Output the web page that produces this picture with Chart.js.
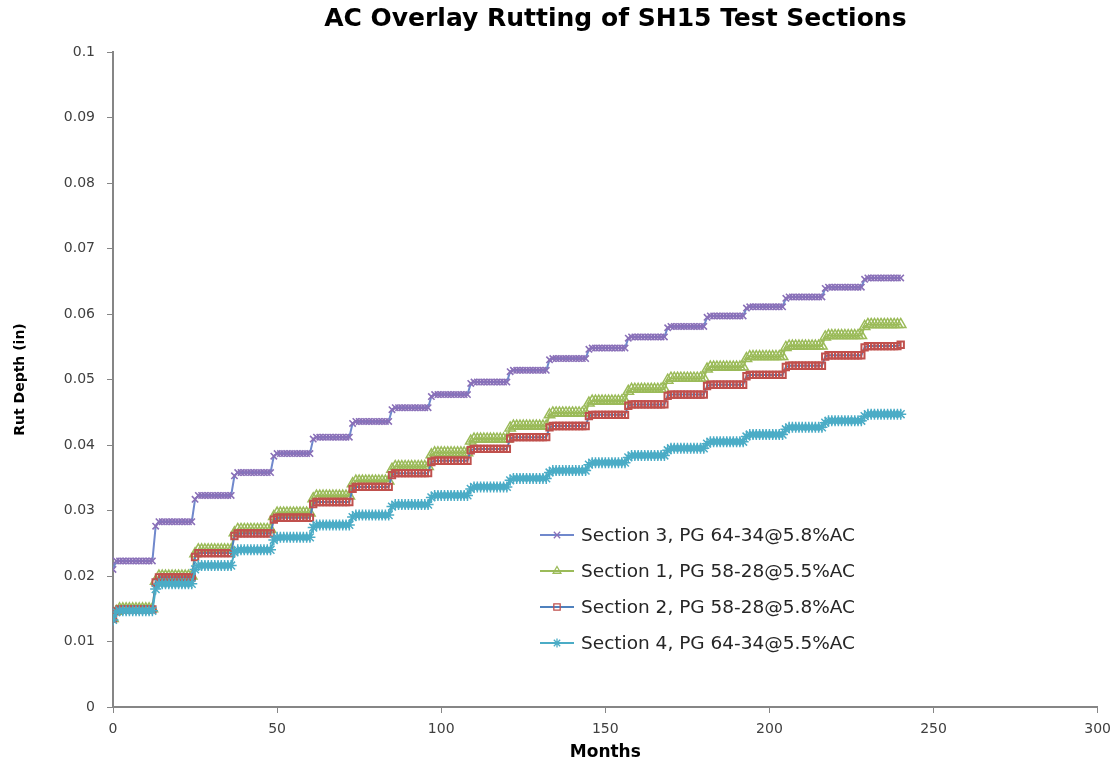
<!DOCTYPE html>
<html>
<head>
<meta charset="utf-8">
<script src="https://cdn.jsdelivr.net/npm/chart.js@4/dist/chart.umd.min.js"></script>
<style>
    body { margin: 0; background: #fff; }
    canvas { display: block; }
</style>
</head>
<body>
<canvas id="rutChart" width="1119" height="765"></canvas>
<script>
// months 0..240 (one reading per month)
const months = Array.from({length: 241}, (_, i) => i)

const xTicks = [0, 50, 100, 150, 200, 250, 300]
const yTicks = [0, 0.01, 0.02, 0.03, 0.04, 0.05, 0.06, 0.07, 0.08, 0.09, 0.1]

const seriesNames = [
    'Section 3, PG 64-34@5.8%AC',
    'Section 1, PG 58-28@5.5%AC',
    'Section 2, PG 58-28@5.8%AC',
    'Section 4, PG 64-34@5.5%AC'
]

const section3 = [
    0.0210,
    0.0223, 0.0223, 0.0223, 0.0223, 0.0223, 0.0223, 0.0223, 0.0223, 0.0223, 0.0223, 0.0223, 0.0223,
    0.0276, 0.0283, 0.0283, 0.0283, 0.0283, 0.0283, 0.0283, 0.0283, 0.0283, 0.0283, 0.0283, 0.0283,
    0.0317, 0.0323, 0.0323, 0.0323, 0.0323, 0.0323, 0.0323, 0.0323, 0.0323, 0.0323, 0.0323, 0.0323,
    0.0353, 0.0358, 0.0358, 0.0358, 0.0358, 0.0358, 0.0358, 0.0358, 0.0358, 0.0358, 0.0358, 0.0358,
    0.0383, 0.0387, 0.0387, 0.0387, 0.0387, 0.0387, 0.0387, 0.0387, 0.0387, 0.0387, 0.0387, 0.0387,
    0.0409, 0.0412, 0.0412, 0.0412, 0.0412, 0.0412, 0.0412, 0.0412, 0.0412, 0.0412, 0.0412, 0.0412,
    0.0433, 0.0436, 0.0436, 0.0436, 0.0436, 0.0436, 0.0436, 0.0436, 0.0436, 0.0436, 0.0436, 0.0436,
    0.0454, 0.0457, 0.0457, 0.0457, 0.0457, 0.0457, 0.0457, 0.0457, 0.0457, 0.0457, 0.0457, 0.0457,
    0.0474, 0.0477, 0.0477, 0.0477, 0.0477, 0.0477, 0.0477, 0.0477, 0.0477, 0.0477, 0.0477, 0.0477,
    0.0494, 0.0496, 0.0496, 0.0496, 0.0496, 0.0496, 0.0496, 0.0496, 0.0496, 0.0496, 0.0496, 0.0496,
    0.0512, 0.0514, 0.0514, 0.0514, 0.0514, 0.0514, 0.0514, 0.0514, 0.0514, 0.0514, 0.0514, 0.0514,
    0.0530, 0.0532, 0.0532, 0.0532, 0.0532, 0.0532, 0.0532, 0.0532, 0.0532, 0.0532, 0.0532, 0.0532,
    0.0546, 0.0548, 0.0548, 0.0548, 0.0548, 0.0548, 0.0548, 0.0548, 0.0548, 0.0548, 0.0548, 0.0548,
    0.0563, 0.0565, 0.0565, 0.0565, 0.0565, 0.0565, 0.0565, 0.0565, 0.0565, 0.0565, 0.0565, 0.0565,
    0.0579, 0.0581, 0.0581, 0.0581, 0.0581, 0.0581, 0.0581, 0.0581, 0.0581, 0.0581, 0.0581, 0.0581,
    0.0595, 0.0597, 0.0597, 0.0597, 0.0597, 0.0597, 0.0597, 0.0597, 0.0597, 0.0597, 0.0597, 0.0597,
    0.0609, 0.0611, 0.0611, 0.0611, 0.0611, 0.0611, 0.0611, 0.0611, 0.0611, 0.0611, 0.0611, 0.0611,
    0.0624, 0.0626, 0.0626, 0.0626, 0.0626, 0.0626, 0.0626, 0.0626, 0.0626, 0.0626, 0.0626, 0.0626,
    0.0639, 0.0641, 0.0641, 0.0641, 0.0641, 0.0641, 0.0641, 0.0641, 0.0641, 0.0641, 0.0641, 0.0641,
    0.0653, 0.0655, 0.0655, 0.0655, 0.0655, 0.0655, 0.0655, 0.0655, 0.0655, 0.0655, 0.0655, 0.0655
]

const section1 = [
    0.0135,
    0.0146, 0.0150, 0.0150, 0.0150, 0.0150, 0.0150, 0.0150, 0.0150, 0.0150, 0.0150, 0.0150, 0.0150,
    0.0192, 0.0200, 0.0200, 0.0200, 0.0200, 0.0200, 0.0200, 0.0200, 0.0200, 0.0200, 0.0200, 0.0200,
    0.0234, 0.0240, 0.0240, 0.0240, 0.0240, 0.0240, 0.0240, 0.0240, 0.0240, 0.0240, 0.0240, 0.0240,
    0.0266, 0.0271, 0.0271, 0.0271, 0.0271, 0.0271, 0.0271, 0.0271, 0.0271, 0.0271, 0.0271, 0.0271,
    0.0291, 0.0296, 0.0296, 0.0296, 0.0296, 0.0296, 0.0296, 0.0296, 0.0296, 0.0296, 0.0296, 0.0296,
    0.0318, 0.0322, 0.0322, 0.0322, 0.0322, 0.0322, 0.0322, 0.0322, 0.0322, 0.0322, 0.0322, 0.0322,
    0.0341, 0.0345, 0.0345, 0.0345, 0.0345, 0.0345, 0.0345, 0.0345, 0.0345, 0.0345, 0.0345, 0.0345,
    0.0363, 0.0367, 0.0367, 0.0367, 0.0367, 0.0367, 0.0367, 0.0367, 0.0367, 0.0367, 0.0367, 0.0367,
    0.0385, 0.0388, 0.0388, 0.0388, 0.0388, 0.0388, 0.0388, 0.0388, 0.0388, 0.0388, 0.0388, 0.0388,
    0.0406, 0.0409, 0.0409, 0.0409, 0.0409, 0.0409, 0.0409, 0.0409, 0.0409, 0.0409, 0.0409, 0.0409,
    0.0426, 0.0429, 0.0429, 0.0429, 0.0429, 0.0429, 0.0429, 0.0429, 0.0429, 0.0429, 0.0429, 0.0429,
    0.0446, 0.0449, 0.0449, 0.0449, 0.0449, 0.0449, 0.0449, 0.0449, 0.0449, 0.0449, 0.0449, 0.0449,
    0.0464, 0.0467, 0.0467, 0.0467, 0.0467, 0.0467, 0.0467, 0.0467, 0.0467, 0.0467, 0.0467, 0.0467,
    0.0482, 0.0485, 0.0485, 0.0485, 0.0485, 0.0485, 0.0485, 0.0485, 0.0485, 0.0485, 0.0485, 0.0485,
    0.0499, 0.0502, 0.0502, 0.0502, 0.0502, 0.0502, 0.0502, 0.0502, 0.0502, 0.0502, 0.0502, 0.0502,
    0.0516, 0.0519, 0.0519, 0.0519, 0.0519, 0.0519, 0.0519, 0.0519, 0.0519, 0.0519, 0.0519, 0.0519,
    0.0532, 0.0535, 0.0535, 0.0535, 0.0535, 0.0535, 0.0535, 0.0535, 0.0535, 0.0535, 0.0535, 0.0535,
    0.0549, 0.0551, 0.0551, 0.0551, 0.0551, 0.0551, 0.0551, 0.0551, 0.0551, 0.0551, 0.0551, 0.0551,
    0.0565, 0.0567, 0.0567, 0.0567, 0.0567, 0.0567, 0.0567, 0.0567, 0.0567, 0.0567, 0.0567, 0.0567,
    0.0581, 0.0584, 0.0584, 0.0584, 0.0584, 0.0584, 0.0584, 0.0584, 0.0584, 0.0584, 0.0584, 0.0584
]

const section2 = [
    0.0135,
    0.0146, 0.0149, 0.0149, 0.0149, 0.0149, 0.0149, 0.0149, 0.0149, 0.0149, 0.0149, 0.0149, 0.0149,
    0.0190, 0.0198, 0.0198, 0.0198, 0.0198, 0.0198, 0.0198, 0.0198, 0.0198, 0.0198, 0.0198, 0.0198,
    0.0229, 0.0235, 0.0235, 0.0235, 0.0235, 0.0235, 0.0235, 0.0235, 0.0235, 0.0235, 0.0235, 0.0235,
    0.0261, 0.0265, 0.0265, 0.0265, 0.0265, 0.0265, 0.0265, 0.0265, 0.0265, 0.0265, 0.0265, 0.0265,
    0.0286, 0.0289, 0.0289, 0.0289, 0.0289, 0.0289, 0.0289, 0.0289, 0.0289, 0.0289, 0.0289, 0.0289,
    0.0310, 0.0313, 0.0313, 0.0313, 0.0313, 0.0313, 0.0313, 0.0313, 0.0313, 0.0313, 0.0313, 0.0313,
    0.0333, 0.0336, 0.0336, 0.0336, 0.0336, 0.0336, 0.0336, 0.0336, 0.0336, 0.0336, 0.0336, 0.0336,
    0.0354, 0.0357, 0.0357, 0.0357, 0.0357, 0.0357, 0.0357, 0.0357, 0.0357, 0.0357, 0.0357, 0.0357,
    0.0374, 0.0376, 0.0376, 0.0376, 0.0376, 0.0376, 0.0376, 0.0376, 0.0376, 0.0376, 0.0376, 0.0376,
    0.0392, 0.0394, 0.0394, 0.0394, 0.0394, 0.0394, 0.0394, 0.0394, 0.0394, 0.0394, 0.0394, 0.0394,
    0.0410, 0.0412, 0.0412, 0.0412, 0.0412, 0.0412, 0.0412, 0.0412, 0.0412, 0.0412, 0.0412, 0.0412,
    0.0427, 0.0429, 0.0429, 0.0429, 0.0429, 0.0429, 0.0429, 0.0429, 0.0429, 0.0429, 0.0429, 0.0429,
    0.0444, 0.0446, 0.0446, 0.0446, 0.0446, 0.0446, 0.0446, 0.0446, 0.0446, 0.0446, 0.0446, 0.0446,
    0.0460, 0.0462, 0.0462, 0.0462, 0.0462, 0.0462, 0.0462, 0.0462, 0.0462, 0.0462, 0.0462, 0.0462,
    0.0475, 0.0477, 0.0477, 0.0477, 0.0477, 0.0477, 0.0477, 0.0477, 0.0477, 0.0477, 0.0477, 0.0477,
    0.0490, 0.0492, 0.0492, 0.0492, 0.0492, 0.0492, 0.0492, 0.0492, 0.0492, 0.0492, 0.0492, 0.0492,
    0.0505, 0.0507, 0.0507, 0.0507, 0.0507, 0.0507, 0.0507, 0.0507, 0.0507, 0.0507, 0.0507, 0.0507,
    0.0519, 0.0521, 0.0521, 0.0521, 0.0521, 0.0521, 0.0521, 0.0521, 0.0521, 0.0521, 0.0521, 0.0521,
    0.0535, 0.0537, 0.0537, 0.0537, 0.0537, 0.0537, 0.0537, 0.0537, 0.0537, 0.0537, 0.0537, 0.0537,
    0.0549, 0.0551, 0.0551, 0.0551, 0.0551, 0.0551, 0.0551, 0.0551, 0.0551, 0.0551, 0.0551, 0.0553
]

const section4 = [
    0.0133,
    0.0145, 0.0147, 0.0147, 0.0147, 0.0147, 0.0147, 0.0147, 0.0147, 0.0147, 0.0147, 0.0147, 0.0147,
    0.0180, 0.0188, 0.0188, 0.0188, 0.0188, 0.0188, 0.0188, 0.0188, 0.0188, 0.0188, 0.0188, 0.0188,
    0.0210, 0.0216, 0.0216, 0.0216, 0.0216, 0.0216, 0.0216, 0.0216, 0.0216, 0.0216, 0.0216, 0.0216,
    0.0236, 0.0240, 0.0240, 0.0240, 0.0240, 0.0240, 0.0240, 0.0240, 0.0240, 0.0240, 0.0240, 0.0240,
    0.0255, 0.0259, 0.0259, 0.0259, 0.0259, 0.0259, 0.0259, 0.0259, 0.0259, 0.0259, 0.0259, 0.0259,
    0.0274, 0.0278, 0.0278, 0.0278, 0.0278, 0.0278, 0.0278, 0.0278, 0.0278, 0.0278, 0.0278, 0.0278,
    0.0290, 0.0293, 0.0293, 0.0293, 0.0293, 0.0293, 0.0293, 0.0293, 0.0293, 0.0293, 0.0293, 0.0293,
    0.0306, 0.0309, 0.0309, 0.0309, 0.0309, 0.0309, 0.0309, 0.0309, 0.0309, 0.0309, 0.0309, 0.0309,
    0.0320, 0.0323, 0.0323, 0.0323, 0.0323, 0.0323, 0.0323, 0.0323, 0.0323, 0.0323, 0.0323, 0.0323,
    0.0333, 0.0336, 0.0336, 0.0336, 0.0336, 0.0336, 0.0336, 0.0336, 0.0336, 0.0336, 0.0336, 0.0336,
    0.0346, 0.0349, 0.0349, 0.0349, 0.0349, 0.0349, 0.0349, 0.0349, 0.0349, 0.0349, 0.0349, 0.0349,
    0.0358, 0.0361, 0.0361, 0.0361, 0.0361, 0.0361, 0.0361, 0.0361, 0.0361, 0.0361, 0.0361, 0.0361,
    0.0370, 0.0373, 0.0373, 0.0373, 0.0373, 0.0373, 0.0373, 0.0373, 0.0373, 0.0373, 0.0373, 0.0373,
    0.0381, 0.0384, 0.0384, 0.0384, 0.0384, 0.0384, 0.0384, 0.0384, 0.0384, 0.0384, 0.0384, 0.0384,
    0.0392, 0.0395, 0.0395, 0.0395, 0.0395, 0.0395, 0.0395, 0.0395, 0.0395, 0.0395, 0.0395, 0.0395,
    0.0402, 0.0405, 0.0405, 0.0405, 0.0405, 0.0405, 0.0405, 0.0405, 0.0405, 0.0405, 0.0405, 0.0405,
    0.0413, 0.0416, 0.0416, 0.0416, 0.0416, 0.0416, 0.0416, 0.0416, 0.0416, 0.0416, 0.0416, 0.0416,
    0.0424, 0.0427, 0.0427, 0.0427, 0.0427, 0.0427, 0.0427, 0.0427, 0.0427, 0.0427, 0.0427, 0.0427,
    0.0434, 0.0437, 0.0437, 0.0437, 0.0437, 0.0437, 0.0437, 0.0437, 0.0437, 0.0437, 0.0437, 0.0437,
    0.0444, 0.0447, 0.0447, 0.0447, 0.0447, 0.0447, 0.0447, 0.0447, 0.0447, 0.0447, 0.0447, 0.0447
]

const axisGray = '#868686'
const tickFont = {family: 'DejaVu Sans', size: 14}

function makeSet(label, values, lineColor, markColor, style, radius, width, order) {
    return {
        label: label,
        data: values,
        borderColor: lineColor,
        borderWidth: 2,
        pointStyle: style,
        pointRadius: radius,
        pointBorderColor: markColor,
        pointBackgroundColor: 'rgba(255,255,255,0)',
        pointBorderWidth: width,
        tension: 0,
        order: order
    }
}

let sets = [
    makeSet(seriesNames[0], section3, '#7088cc', '#8a70b8', 'crossRot', 4.5, 1.6, 4),
    makeSet(seriesNames[1], section1, '#9bbb59', '#9bbb59', 'triangle', 6, 1.5, 3),
    makeSet(seriesNames[2], section2, '#4f81bd', '#c0504d', 'rect', 4.5, 2, 2),
    makeSet(seriesNames[3], section4, '#4bacc6', '#4bacc6', 'star', 5.5, 1.5, 1)
]

// legend sits inside the plot, drawn by hand like the Excel one
const insideLegend = {
    id: 'insideLegend',
    afterDraw(chart) {
        let ctx = chart.ctx
        let rowY = [535, 571, 607, 643]
        ctx.save()
        for (let i in sets) {
            let ds = sets[i]
            let y = rowY[i]
            ctx.strokeStyle = ds.borderColor
            ctx.lineWidth = 2
            ctx.beginPath()
            ctx.moveTo(540, y)
            ctx.lineTo(574, y)
            ctx.stroke()
            ctx.strokeStyle = ds.pointBorderColor
            ctx.fillStyle = 'rgba(255,255,255,0)'
            ctx.lineWidth = 1.3
            Chart.helpers.drawPoint(ctx, {pointStyle: ds.pointStyle, radius: 4.5, borderWidth: 1.3, rotation: 0}, 557, y)
            ctx.fillStyle = '#262626'
            ctx.font = '18.5px "DejaVu Sans"'
            ctx.textBaseline = 'middle'
            ctx.textAlign = 'left'
            ctx.fillText(ds.label, 581, y + 1)
        }
        ctx.restore()
    }
}

// nudge the title a little right, Excel centres it differently
const titleShift = {
    id: 'titleShift',
    afterLayout(chart) {
        if (chart.titleBlock) {
            chart.titleBlock.left += 20
        }
    }
}

const config = {
    type: 'line',
    data: {
        labels: months,
        datasets: sets
    },
    options: {
        responsive: false,
        animation: false,
        layout: {
            padding: {left: 0, right: 16, top: 0, bottom: 0}
        },
        plugins: {
            legend: {display: false},
            tooltip: {enabled: false},
            title: {
                display: true,
                fullSize: false,
                text: 'AC Overlay Rutting of SH15 Test Sections',
                color: '#000',
                font: {family: 'DejaVu Sans', size: 25, weight: 'bold'},
                padding: {top: 4, bottom: 18}
            }
        },
        scales: {
            x: {
                type: 'linear',
                min: 0,
                max: 300,
                afterBuildTicks: (scale) => {
                    scale.ticks = xTicks.map(v => ({value: v}))
                },
                afterFit: (scale) => {
                    scale.height = 58
                },
                ticks: {
                    color: '#404040',
                    font: tickFont,
                    padding: 8,
                    maxRotation: 0
                },
                grid: {
                    drawOnChartArea: false,
                    drawTicks: true,
                    tickLength: 6,
                    color: axisGray
                },
                border: {color: axisGray, width: 2},
                title: {
                    display: true,
                    text: 'Months',
                    color: '#000',
                    font: {family: 'DejaVu Sans', size: 17, weight: 'bold'},
                    padding: {top: 0, bottom: 2}
                }
            },
            y: {
                min: 0,
                max: 0.1,
                afterBuildTicks: (scale) => {
                    scale.ticks = yTicks.map(v => ({value: v}))
                },
                afterFit: (scale) => {
                    scale.width = 113
                },
                ticks: {
                    color: '#404040',
                    font: tickFont,
                    padding: 12,
                    callback: (v) => String(+v.toFixed(2))
                },
                grid: {
                    drawOnChartArea: false,
                    drawTicks: true,
                    tickLength: 6,
                    color: axisGray
                },
                border: {color: axisGray, width: 2},
                title: {
                    display: true,
                    text: 'Rut Depth (in)',
                    color: '#000',
                    font: {family: 'DejaVu Sans', size: 14, weight: 'bold'},
                    padding: {top: 12, bottom: 0}
                }
            }
        }
    },
    plugins: [insideLegend, titleShift]
}

let rutChart = new Chart(document.getElementById('rutChart').getContext('2d'), config)
</script>
</body>
</html>
